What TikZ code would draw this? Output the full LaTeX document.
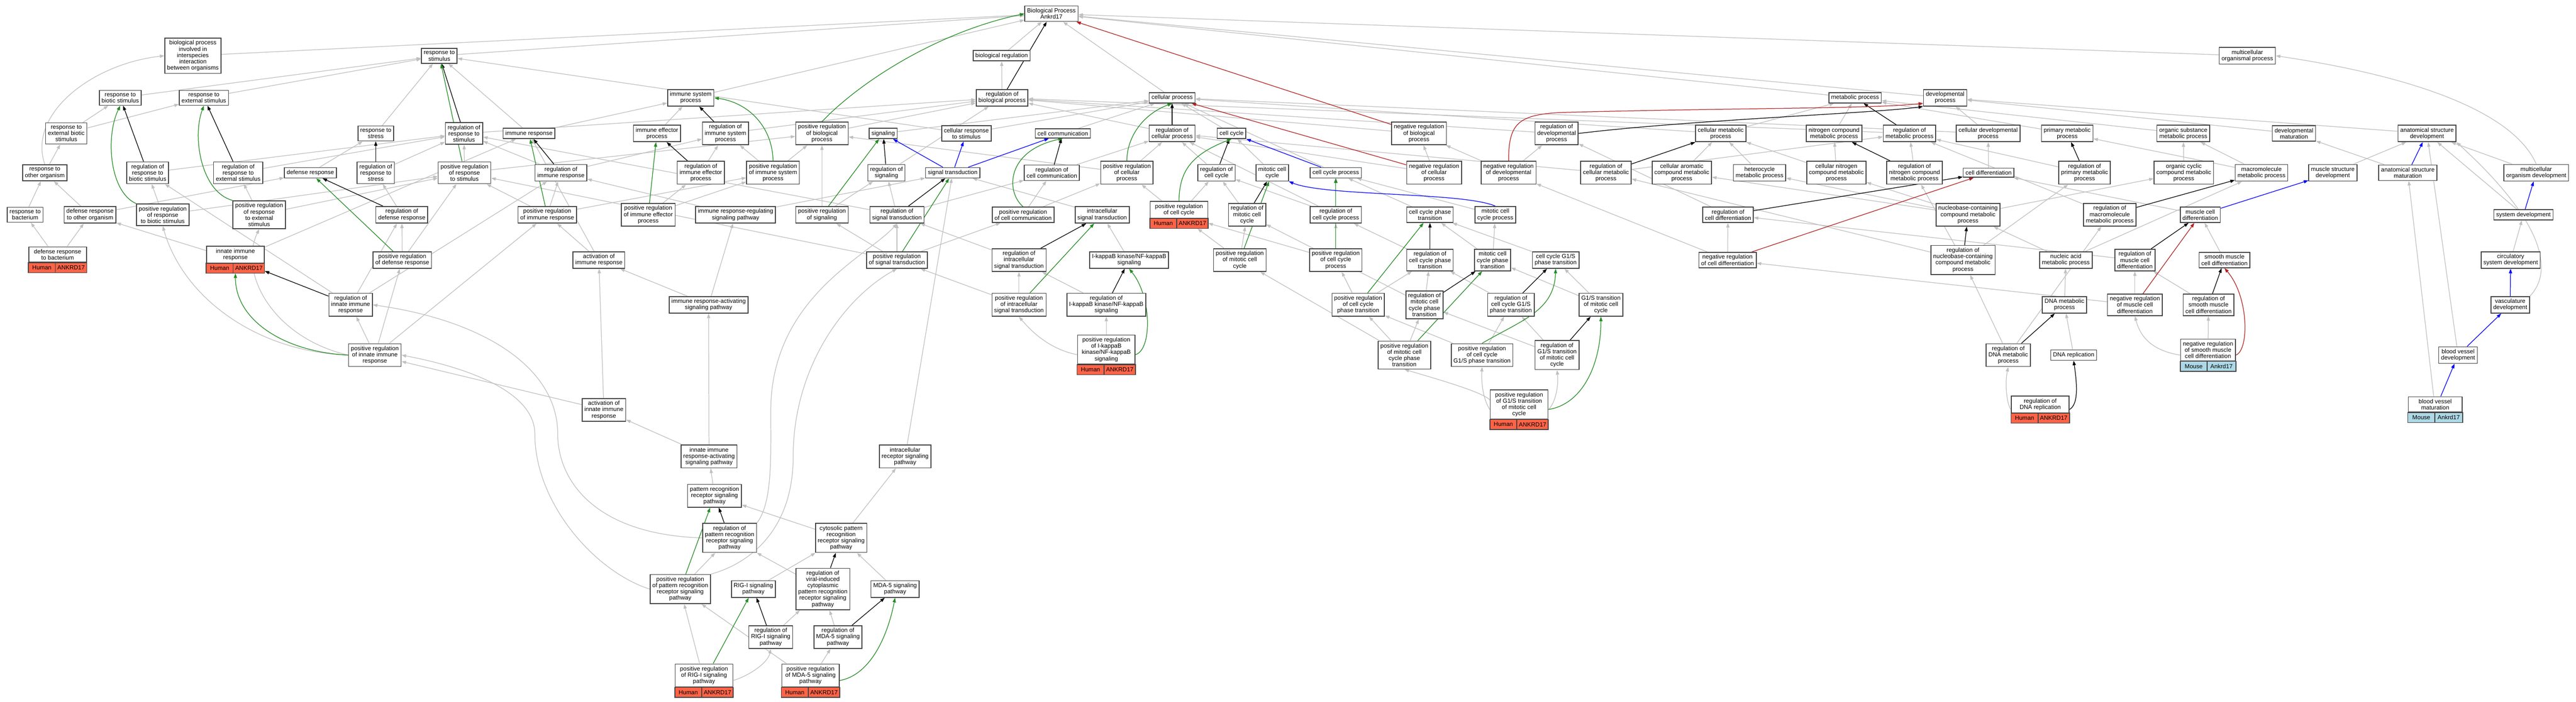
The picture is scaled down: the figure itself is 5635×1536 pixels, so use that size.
\documentclass[tikz,border=0pt]{standalone}
\usepackage{fontspec}
\setmainfont{Liberation Sans}
\usetikzlibrary{arrows.meta,backgrounds,fit,calc}
\definecolor{edgegray}{RGB}{192,192,192}
\definecolor{posgreen}{RGB}{34,139,34}
\definecolor{negred}{RGB}{178,34,34}
\definecolor{humanred}{RGB}{255,99,71}
\definecolor{mouseblue}{RGB}{173,216,230}
\definecolor{boxline}{RGB}{68,68,68}
\newcommand{\gvfont}{\fontsize{13}{13.7}\selectfont}
\newcommand{\genenode}[7]{%
  \node[term, minimum width=#7] (#1-l) at #2 {#3};
  \coordinate (#1-b) at ([yshift=-22pt]#1-l.south east);
  \coordinate (#1-m) at ([xshift=59pt]#1-l.south west);
  \draw[cellline, fill=#6] (#1-l.south west) rectangle (#1-b);
  \draw[cellline] (#1-m) -- (#1-m |- #1-b);
  \node[font=\gvfont, inner sep=0pt] at ($(#1-l.south west)!0.5!(#1-m |- #1-b)$) {#4};
  \node[font=\gvfont, inner sep=0pt] at ($(#1-m)!0.5!(#1-b)$) {#5};
  \node[fit=(#1-l)(#1-b), inner sep=0pt] (#1) {};}
\newcommand{\humannode}[3]{\genenode{#1}{#2}{#3}{Human}{ANKRD17}{humanred}{126pt}}
\newcommand{\mousenode}[3]{\genenode{#1}{#2}{#3}{Mouse}{Ankrd17}{mouseblue}{118pt}}

\begin{document}
\begin{tikzpicture}[x=1pt, y=-1pt,
  term/.style={draw=boxline, line width=1.8pt, fill=white, align=center, font=\gvfont, inner xsep=5pt, inner ysep=5.2pt},
  cellline/.style={draw=boxline, line width=1.8pt},
  isa/.style={draw=edgegray, line width=1.4pt, -{Triangle[length=10pt, width=7pt]}},
  regl/.style={draw=black, line width=1.4pt, -{Triangle[length=10pt, width=7pt]}},
  posreg/.style={draw=posgreen, line width=1.4pt, -{Triangle[length=10pt, width=7pt]}},
  negreg/.style={draw=negred, line width=1.4pt, -{Triangle[length=10pt, width=7pt]}},
  partof/.style={draw=blue, line width=1.4pt, -{Triangle[length=10pt, width=7pt]}}]
\useasboundingbox (0,0) rectangle (5635,1536);

\node[term] (root) at (2300,30) {Biological Process\\Ankrd17};
\node[term] (bpinter) at (422,122) {biological process\\involved in\\interspecies\\interaction\\between organisms};
\node[term] (respstim) at (961,122) {response to\\stimulus};
\node[term] (bioreg) at (2191,122) {biological regulation};
\node[term] (multiorg) at (4916,122) {multicellular\\organismal process};

\node[term] (respbiotic) at (263,214) {response to\\biotic stimulus};
\node[term] (respext) at (446,214) {response to\\external stimulus};
\node[term] (immsys) at (1511,214) {immune system\\process};
\node[term] (regbio) at (2192,214) {regulation of\\biological process};
\node[term] (cellproc) at (2564,214) {cellular process};
\node[term] (metproc) at (4058,214) {metabolic process};
\node[term] (devproc) at (4255,214) {developmental\\process};

\node[term] (respextbiotic) at (145,292) {response to\\external biotic\\stimulus};
\node[term] (respstress) at (822,292) {response to\\stress};
\node[term] (regrespstim) at (1015,292) {regulation of\\response to\\stimulus};
\node[term] (immresp) at (1157,292) {immune response};
\node[term] (immeff) at (1437,292) {immune effector\\process};
\node[term] (regimmsys) at (1587,292) {regulation of\\immune system\\process};
\node[term] (posregbio) at (1798,292) {positive regulation\\of biological\\process};
\node[term] (signaling) at (1932,292) {signaling};
\node[term] (cellrespstim) at (2114,292) {cellular response\\to stimulus};
\node[term] (cellcomm) at (2325,292) {cell communication};
\node[term] (regcellproc) at (2564,292) {regulation of\\cellular process};
\node[term] (cellcycle) at (2694,292) {cell cycle};
\node[term] (negregbio) at (3104,292) {negative regulation\\of biological\\process};
\node[term] (regdev) at (3405,292) {regulation of\\developmental\\process};
\node[term] (cellmet) at (3764,292) {cellular metabolic\\process};
\node[term] (nitromet) at (4012,292) {nitrogen compound\\metabolic process};
\node[term] (regmet) at (4177,292) {regulation of\\metabolic process};
\node[term] (celldev) at (4349,292) {cellular developmental\\process};
\node[term] (primmet) at (4522,292) {primary metabolic\\process};
\node[term] (orgsub) at (4776,292) {organic substance\\metabolic process};
\node[term] (devmat) at (5018,292) {developmental\\maturation};
\node[term] (anatdev) at (5309,292) {anatomical structure\\development};

\node[term] (resporg) at (98,378) {response to\\other organism};
\node[term] (regrespbiotic) at (323,378) {regulation of\\response to\\biotic stimulus};
\node[term] (regrespext) at (521,378) {regulation of\\response to\\external stimulus};
\node[term] (defresp) at (679,378) {defense response};
\node[term] (regrespstress) at (822,378) {regulation of\\response to\\stress};
\node[term] (posregrespstim) at (1016,378) {positive regulation\\of response\\to stimulus};
\node[term] (regimmresp) at (1227,378) {regulation of\\immune response};
\node[term] (regimmeff) at (1533,378) {regulation of\\immune effector\\process};
\node[term] (posregimmsys) at (1691,378) {positive regulation\\of immune system\\process};
\node[term] (regsignaling) at (1939,378) {regulation of\\signaling};
\node[term] (sigtrans) at (2084,378) {signal transduction};
\node[term] (regcellcomm) at (2301,378) {regulation of\\cell communication};
\node[term] (posregcellproc) at (2465,378) {positive regulation\\of cellular\\process};
\node[term] (regcellcycle) at (2661,378) {regulation of\\cell cycle};
\node[term] (mitcc) at (2783,378) {mitotic cell\\cycle};
\node[term] (ccproc) at (2922,378) {cell cycle process};
\node[term] (negregcell) at (3137,378) {negative regulation\\of cellular\\process};
\node[term] (negregdev) at (3300,378) {negative regulation\\of developmental\\process};
\node[term] (regcellmet) at (3513,378) {regulation of\\cellular metabolic\\process};
\node[term] (cellarom) at (3679,378) {cellular aromatic\\compound metabolic\\process};
\node[term] (hetero) at (3849,378) {heterocycle\\metabolic process};
\node[term] (cellnitro) at (4017,378) {cellular nitrogen\\compound metabolic\\process};
\node[term] (regnitro) at (4188,378) {regulation of\\nitrogen compound\\metabolic process};
\node[term] (celldiff) at (4350,378) {cell differentiation};
\node[term] (regprim) at (4560,378) {regulation of\\primary metabolic\\process};
\node[term] (orgcyc) at (4777,378) {organic cyclic\\compound metabolic\\process};
\node[term] (macromet) at (4947,378) {macromolecule\\metabolic process};
\node[term] (muscstruct) at (5103,378) {muscle structure\\development};
\node[term] (anatmat) at (5267,378) {anatomical structure\\maturation};
\node[term] (multidev) at (5548,378) {multicellular\\organism development};

\node[term] (respbact) at (55,470) {response to\\bacterium};
\node[term] (defrespother) at (197,470) {defense response\\to other organism};
\node[term] (posregrespbiotic) at (356,470) {positive regulation\\of response\\to biotic stimulus};
\node[term] (posregrespext) at (567,470) {positive regulation\\of response\\to external\\stimulus};
\node[term] (regdefresp) at (879,470) {regulation of\\defense response};
\node[term] (posregimmresp) at (1197,470) {positive regulation\\of immune response};
\node[term] (posregimmeff) at (1418,470) {positive regulation\\of immune effector\\process};
\node[term] (immrespreg) at (1609,470) {immune response-regulating\\signaling pathway};
\node[term] (posregsig) at (1798,470) {positive regulation\\of signaling};
\node[term] (regsigtrans) at (1962,470) {regulation of\\signal transduction};
\node[term] (posregcellcomm) at (2238,470) {positive regulation\\of cell communication};
\node[term] (intrasig) at (2411,470) {intracellular\\signal transduction};
\humannode{posregcc}{(2579,459)}{positive regulation\\of cell cycle}
\node[term] (regmitcc) at (2728,470) {regulation of\\mitotic cell\\cycle};
\node[term] (regccproc) at (2922,470) {regulation of\\cell cycle process};
\node[term] (ccphase) at (3128,470) {cell cycle phase\\transition};
\node[term] (mitccproc) at (3271,470) {mitotic cell\\cycle process};
\node[term] (regcelldiff) at (3780,470) {regulation of\\cell differentiation};
\node[term] (nucleo) at (4305,470) {nucleobase-containing\\compound metabolic\\process};
\node[term] (regmacro) at (4615,470) {regulation of\\macromolecule\\metabolic process};
\node[term] (musccelldiff) at (4813,470) {muscle cell\\differentiation};
\node[term] (sysdev) at (5520,470) {system development};

\humannode{defrespbact}{(126,557)}{defense response\\to bacterium}
\humannode{innate}{(515,557)}{innate immune\\response}
\node[term] (posregdef) at (880,569) {positive regulation\\of defense response};
\node[term] (actimm) at (1310,569) {activation of\\immune response};
\node[term] (posregsigtrans) at (1962,569) {positive regulation\\of signal transduction};
\node[term] (regintra) at (2229,569) {regulation of\\intracellular\\signal transduction};
\node[term] (ikb) at (2470,569) {I-kappaB kinase/NF-kappaB\\signaling};
\node[term] (posregmitcc) at (2712,569) {positive regulation\\of mitotic cell\\cycle};
\node[term] (posregccproc) at (2922,569) {positive regulation\\of cell cycle\\process};
\node[term] (regccphase) at (3128,569) {regulation of\\cell cycle phase\\transition};
\node[term] (mitccphase) at (3265,569) {mitotic cell\\cycle phase\\transition};
\node[term] (ccg1s) at (3403,569) {cell cycle G1/S\\phase transition};
\node[term] (negregcelldiff) at (3779,569) {negative regulation\\of cell differentiation};
\node[term] (regnucleo) at (4294,569) {regulation of\\nucleobase-containing\\compound metabolic\\process};
\node[term] (nucacid) at (4519,569) {nucleic acid\\metabolic process};
\node[term] (regmuscdiff) at (4670,569) {regulation of\\muscle cell\\differentiation};
\node[term] (smooth) at (4866,569) {smooth muscle\\cell differentiation};
\node[term] (circ) at (5492,569) {circulatory\\system development};

\node[term] (reginnate) at (767,667) {regulation of\\innate immune\\response};
\node[term] (immrespact) at (1550,667) {immune response-activating\\signaling pathway};
\node[term] (posregintra) at (2229,667) {positive regulation\\of intracellular\\signal transduction};
\node[term] (regikb) at (2420,667) {regulation of\\I-kappaB kinase/NF-kappaB\\signaling};
\node[term] (posregccphase) at (2971,667) {positive regulation\\of cell cycle\\phase transition};
\node[term] (regmitccphase) at (3116,667) {regulation of\\mitotic cell\\cycle phase\\transition};
\node[term] (regccg1s) at (3305,667) {regulation of\\cell cycle G1/S\\phase transition};
\node[term] (g1smit) at (3502,667) {G1/S transition\\of mitotic cell\\cycle};
\node[term] (dnamet) at (4516,667) {DNA metabolic\\process};
\node[term] (negregmusc) at (4670,667) {negative regulation\\of muscle cell\\differentiation};
\node[term] (regsmooth) at (4831,667) {regulation of\\smooth muscle\\cell differentiation};
\node[term] (vasc) at (5491,667) {vasculature\\development};

\node[term] (posreginnate) at (820,777) {positive regulation\\of innate immune\\response};
\humannode{posregikb}{(2420,765)}{positive regulation\\of I-kappaB\\kinase/NF-kappaB\\signaling}
\node[term] (posregmitccphase) at (3072,777) {positive regulation\\of mitotic cell\\cycle phase\\transition};
\node[term] (posregccg1s) at (3242,777) {positive regulation\\of cell cycle\\G1/S phase transition};
\node[term] (regg1smit) at (3406,777) {regulation of\\G1/S transition\\of mitotic cell\\cycle};
\node[term] (regdnamet) at (4393,777) {regulation of\\DNA metabolic\\process};
\node[term] (dnarep) at (4536,777) {DNA replication};
\mousenode{negregsmooth}{(4830,766)}{negative regulation\\of smooth muscle\\cell differentiation}
\node[term] (bloodvessel) at (5377,777) {blood vessel\\development};

\node[term] (actinnate) at (1321,897) {activation of\\innate immune\\response};
\humannode{posregg1smit}{(3323,885)}{positive regulation\\of G1/S transition\\of mitotic cell\\cycle}
\humannode{regdnarep}{(4463,885)}{regulation of\\DNA replication}
\mousenode{bvmat}{(5327,885)}{blood vessel\\maturation}

\node[term] (innateact) at (1551,999) {innate immune\\response-activating\\signaling pathway};
\node[term] (intrarec) at (1980,999) {intracellular\\receptor signaling\\pathway};
\node[term] (prr) at (1563,1085) {pattern recognition\\receptor signaling\\pathway};
\node[term] (regprr) at (1596,1177) {regulation of\\pattern recognition\\receptor signaling\\pathway};
\node[term] (cytoprr) at (1840,1177) {cytosolic pattern\\recognition\\receptor signaling\\pathway};
\node[term] (posregprr) at (1488,1289) {positive regulation\\of pattern recognition\\receptor signaling\\pathway};
\node[term] (rigi) at (1648,1289) {RIG-I signaling\\pathway};
\node[term] (regviral) at (1800,1289) {regulation of\\viral-induced\\cytoplasmic\\pattern recognition\\receptor signaling\\pathway};
\node[term] (mda5) at (1958,1289) {MDA-5 signaling\\pathway};
\node[term] (regrigi) at (1686,1394) {regulation of\\RIG-I signaling\\pathway};
\node[term] (regmda5) at (1833,1394) {regulation of\\MDA-5 signaling\\pathway};
\humannode{posregrigi}{(1540,1478)}{positive regulation\\of RIG-I signaling\\pathway}
\humannode{posregmda5}{(1773,1478)}{positive regulation\\of MDA-5 signaling\\pathway}

\begin{pgfonlayer}{background}
\fill[white] (0,0) rectangle (5635,1536);
\draw[isa] (bpinter) -- (root);
\draw[isa] (respstim) -- (root);
\draw[isa] (immsys) -- (root);
\draw[isa] (bioreg) -- (root);
\draw[isa] (cellproc) -- (root);
\draw[isa] (metproc) -- (root);
\draw[isa] (devproc) -- (root);
\draw[isa] (multiorg) -- (root);
\draw[isa] (signaling) -- (cellproc);
\draw[isa] (regbio) -- (bioreg);
\draw[isa] (respbiotic) -- (respstim);
\draw[isa] (respext) -- (respstim);
\draw[isa] (respstress) -- (respstim);
\draw[isa] (immresp) -- (respstim);
\draw[isa] (cellrespstim) -- (respstim);
\draw[isa] (respextbiotic) -- (respbiotic);
\draw[isa] (respextbiotic) -- (respext);
\draw[isa] (resporg) -- (respextbiotic);
\draw[isa] (resporg.north) .. controls (60,250) and (200,140) .. (bpinter.west);
\draw[isa] (regrespbiotic) -- (regrespstim);
\draw[isa] (regrespext) -- (regrespstim);
\draw[isa] (regrespstress) -- (regrespstim);
\draw[isa] (regrespstim) -- (regbio);
\draw[isa] (defresp) -- (respstress);
\draw[isa] (posregrespstim) -- (regrespstim);
\draw[isa] (posregrespstim) -- (posregbio);
\draw[isa] (respbact) -- (resporg);
\draw[isa] (defrespother) -- (resporg);
\draw[isa] (defrespother) -- (defresp);
\draw[isa] (posregrespbiotic) -- (regrespbiotic);
\draw[isa] (posregrespbiotic) -- (posregrespstim);
\draw[isa] (posregrespext) -- (regrespext);
\draw[isa] (posregrespext) -- (posregrespstim);
\draw[isa] (regdefresp) -- (regrespstress);
\draw[isa] (posregdef) -- (regdefresp);
\draw[isa] (posregdef) -- (posregrespstim);
\draw[isa] (defrespbact) -- (respbact);
\draw[isa] (defrespbact) -- (defrespother);
\draw[isa] (innate) -- (defrespother);
\draw[isa] (innate) -- (immresp);
\draw[isa] (reginnate) -- (regrespbiotic);
\draw[isa] (reginnate) -- (regdefresp);
\draw[isa] (reginnate) -- (regimmresp);
\draw[isa] (posreginnate) -- (reginnate);
\draw[isa] (posreginnate) -- (posregdef);
\draw[isa] (posreginnate) -- (posregimmresp);
\draw[isa] (posreginnate.west) .. controls (560,770) and (400,650) .. (posregrespbiotic.south);
\draw[isa] (posreginnate.west) .. controls (600,740) and (520,600) .. (posregrespext.south);
\draw[isa] (immresp) -- (immsys);
\draw[isa] (immeff) -- (immsys);
\draw[isa] (regimmsys) -- (regbio);
\draw[isa] (posregimmsys) -- (regimmsys);
\draw[isa] (posregimmsys) -- (posregbio);
\draw[isa] (regimmresp) -- (regimmsys);
\draw[isa] (regimmresp) -- (regrespstim);
\draw[isa] (posregimmresp) -- (regimmresp);
\draw[isa] (posregimmresp) -- (posregimmsys);
\draw[isa] (posregimmresp) -- (posregrespstim);
\draw[isa] (regimmeff) -- (regimmsys);
\draw[isa] (posregimmeff) -- (regimmeff);
\draw[isa] (posregimmeff) -- (posregimmsys);
\draw[isa] (immrespreg) -- (regimmresp);
\draw[isa] (immrespreg) -- (sigtrans);
\draw[isa] (immrespact) -- (immrespreg);
\draw[isa] (immrespact) -- (actimm);
\draw[isa] (actimm) -- (posregimmresp);
\draw[isa] (actimm) -- (immresp);
\draw[isa] (actinnate) -- (actimm);
\draw[isa] (actinnate) -- (posreginnate);
\draw[isa] (innateact) -- (actinnate);
\draw[isa] (innateact) -- (immrespact);
\draw[isa] (posregbio) -- (regbio);
\draw[isa] (regsignaling) -- (regbio);
\draw[isa] (posregsig) -- (regsignaling);
\draw[isa] (posregsig) -- (posregbio);
\draw[isa] (regsigtrans) -- (regsignaling);
\draw[isa] (regsigtrans) -- (regcellcomm);
\draw[isa] (regsigtrans) -- (regrespstim);
\draw[isa] (posregsigtrans) -- (regsigtrans);
\draw[isa] (posregsigtrans) -- (posregsig);
\draw[isa] (posregsigtrans) -- (posregcellcomm);
\draw[isa] (posregsigtrans) -- (posregrespstim);
\draw[isa] (intrasig) -- (sigtrans);
\draw[isa] (intrarec) -- (sigtrans);
\draw[isa] (posregcellcomm) -- (regcellcomm);
\draw[isa] (posregcellcomm) -- (posregcellproc);
\draw[isa] (regcellcomm) -- (regcellproc);
\draw[isa] (cellcomm) -- (cellproc);
\draw[isa] (cellrespstim) -- (cellproc);
\draw[isa] (posregcellproc) -- (regcellproc);
\draw[isa] (regcellproc) -- (regbio);
\draw[isa] (posregcellproc) -- (posregbio);
\draw[isa] (cellcycle) -- (cellproc);
\draw[isa] (mitcc) -- (cellcycle);
\draw[isa] (regcellcycle) -- (regcellproc);
\draw[isa] (posregcc) -- (regcellcycle);
\draw[isa] (posregcc) -- (posregcellproc);
\draw[isa] (ccproc) -- (cellproc);
\draw[isa] (regmitcc) -- (regcellcycle);
\draw[isa] (regccproc) -- (regcellcycle);
\draw[isa] (regccproc) -- (regcellproc);
\draw[isa] (posregmitcc) -- (regmitcc);
\draw[isa] (posregmitcc) -- (posregcc);
\draw[isa] (posregccproc) -- (regccproc);
\draw[isa] (posregccproc) -- (posregcc);
\draw[isa] (ccphase) -- (ccproc);
\draw[isa] (mitccproc) -- (ccproc);
\draw[isa] (regccphase) -- (regccproc);
\draw[isa] (posregccphase) -- (regccphase);
\draw[isa] (posregccphase) -- (posregccproc);
\draw[isa] (mitccphase) -- (ccphase);
\draw[isa] (mitccphase) -- (mitccproc);
\draw[isa] (ccg1s) -- (ccphase);
\draw[isa] (regmitccphase) -- (regccphase);
\draw[isa] (regmitccphase) -- (regmitcc);
\draw[isa] (regccg1s) -- (regccphase);
\draw[isa] (g1smit) -- (mitccphase);
\draw[isa] (g1smit) -- (ccg1s);
\draw[isa] (posregmitccphase) -- (regmitccphase);
\draw[isa] (posregmitccphase) -- (posregccphase);
\draw[isa] (posregmitccphase) -- (posregmitcc);
\draw[isa] (posregccg1s) -- (regccg1s);
\draw[isa] (posregccg1s) -- (posregccphase);
\draw[isa] (regg1smit) -- (regccg1s);
\draw[isa] (regg1smit) -- (regmitccphase);
\draw[isa] (posregg1smit.west) .. controls (3280,875) and (3250,860) .. (posregmitccphase.south);
\draw[isa] (posregg1smit.west) .. controls (3245,875) and (3240,840) .. (posregccg1s.south);
\draw[isa] (posregg1smit.east) .. controls (3400,885) and (3410,850) .. (regg1smit.south);
\draw[isa] (ikb) -- (intrasig);
\draw[isa] (regintra) -- (regsigtrans);
\draw[isa] (posregintra) -- (regintra);
\draw[isa] (posregintra) -- (posregsigtrans);
\draw[isa] (regikb) -- (regintra);
\draw[isa] (posregikb) -- (regikb);
\draw[isa] (posregikb.west) .. controls (2300,765) and (2260,730) .. (posregintra.south);
\draw[isa] (prr) -- (innateact);
\draw[isa] (posregprr) -- (regprr);
\draw[isa] (cytoprr) -- (prr);
\draw[isa] (cytoprr) -- (intrarec);
\draw[isa] (regprr.west) .. controls (1300,1170) and (1220,1050) .. (1220,950) .. controls (1220,800) and (1050,700) .. (reginnate.east);
\draw[isa] (regprr.north east) .. controls (1690,1100) and (1686,1000) .. (1686,900) .. controls (1686,650) and (1900,560) .. (regsigtrans.south);
\draw[isa] (posregprr.west) .. controls (1300,1250) and (1170,1100) .. (1170,950) .. controls (1170,850) and (1000,800) .. (posreginnate.east);
\draw[isa] (posregprr.north east) .. controls (1650,1230) and (1735,1150) .. (1735,1000) .. controls (1735,800) and (1850,650) .. (posregsigtrans.south);
\draw[isa] (rigi) -- (cytoprr);
\draw[isa] (mda5) -- (cytoprr);
\draw[isa] (regviral) -- (regprr);
\draw[isa] (regrigi) -- (regviral);
\draw[isa] (regmda5) -- (regviral);
\draw[isa] (posregrigi.east) .. controls (1640,1478) and (1680,1450) .. (regrigi.south);
\draw[isa] (posregrigi) -- (posregprr);
\draw[isa] (posregmda5) -- (regmda5);
\draw[isa] (posregmda5) -- (posregprr);
\draw[isa] (cellmet) -- (metproc);
\draw[isa] (cellmet) -- (cellproc);
\draw[isa] (nitromet) -- (metproc);
\draw[isa] (regmet) -- (regbio);
\draw[isa] (primmet) -- (metproc);
\draw[isa] (orgsub) -- (metproc);
\draw[isa] (macromet) -- (orgsub);
\draw[isa] (macromet) -- (primmet);
\draw[isa] (regdev) -- (regbio);
\draw[isa] (negregbio) -- (regbio);
\draw[isa] (celldev) -- (devproc);
\draw[isa] (celldev) -- (cellproc);
\draw[isa] (devmat) -- (devproc);
\draw[isa] (anatdev) -- (devproc);
\draw[isa] (multidev.north) .. controls (5500,250) and (5300,170) .. (multiorg.east);
\draw[isa] (multidev) -- (anatdev);
\draw[isa] (sysdev) -- (anatdev);
\draw[isa] (circ) -- (sysdev);
\draw[isa] (vasc.north east) .. controls (5580,600) and (5580,500) .. (anatdev.south east);
\draw[isa] (bloodvessel) -- (anatdev);
\draw[isa] (bvmat) -- (anatmat);
\draw[isa] (anatmat) -- (devmat);
\draw[isa] (muscstruct) -- (anatdev);
\draw[isa] (musccelldiff) -- (celldiff);
\draw[isa] (smooth) -- (musccelldiff);
\draw[isa] (regmuscdiff) -- (regcelldiff);
\draw[isa] (negregmusc) -- (regmuscdiff);
\draw[isa] (negregmusc) -- (negregcelldiff);
\draw[isa] (regsmooth) -- (regmuscdiff);
\draw[isa] (negregsmooth) -- (regsmooth);
\draw[isa] (negregsmooth.west) .. controls (4700,766) and (4680,730) .. (negregmusc.south);
\draw[isa] (celldiff) -- (celldev);
\draw[isa] (negregcelldiff) -- (regcelldiff);
\draw[isa] (regcelldiff) -- (regdev);
\draw[isa] (negregcelldiff) -- (negregdev);
\draw[isa] (negregdev) -- (regdev);
\draw[isa] (negregdev) -- (negregbio);
\draw[isa] (negregcell) -- (negregbio);
\draw[isa] (negregcell) -- (regcellproc);
\draw[isa] (regcellmet) -- (regmet);
\draw[isa] (regcellmet) -- (regcellproc);
\draw[isa] (cellarom) -- (cellmet);
\draw[isa] (hetero) -- (cellmet);
\draw[isa] (cellnitro) -- (cellmet);
\draw[isa] (cellnitro) -- (nitromet);
\draw[isa] (regnitro) -- (regmet);
\draw[isa] (regprim) -- (regmet);
\draw[isa] (orgcyc) -- (orgsub);
\draw[isa] (nucleo) -- (cellarom);
\draw[isa] (nucleo) -- (hetero);
\draw[isa] (nucleo) -- (cellnitro);
\draw[isa] (nucleo) -- (orgcyc);
\draw[isa] (regnucleo) -- (regnitro);
\draw[isa] (regnucleo) -- (regcellmet);
\draw[isa] (regnucleo) -- (regprim);
\draw[isa] (regmacro) -- (regmet);
\draw[isa] (nucacid) -- (nucleo);
\draw[isa] (nucacid) -- (macromet);
\draw[isa] (dnamet) -- (nucacid);
\draw[isa] (regdnamet) -- (regnucleo);
\draw[isa] (regdnamet) -- (regmacro);
\draw[isa] (dnarep) -- (dnamet);
\draw[isa] (regdnarep.west) .. controls (4390,885) and (4385,840) .. (regdnamet.south);

\draw[regl] (regbio) -- (root);
\draw[regl] (regrespstim) -- (respstim);
\draw[regl] (regrespbiotic) -- (respbiotic);
\draw[regl] (regrespext) -- (respext);
\draw[regl] (regrespstress) -- (respstress);
\draw[regl] (regdefresp) -- (defresp);
\draw[regl] (reginnate) -- (innate);
\draw[regl] (regimmsys) -- (immsys);
\draw[regl] (regimmresp) -- (immresp);
\draw[regl] (regimmeff) -- (immeff);
\draw[regl] (regsignaling) -- (signaling);
\draw[regl] (regsigtrans) -- (sigtrans);
\draw[regl] (regcellcomm) -- (cellcomm);
\draw[regl] (regcellproc) -- (cellproc);
\draw[regl] (regcellcycle) -- (cellcycle);
\draw[regl] (regmitcc) -- (mitcc);
\draw[regl] (regccproc) -- (ccproc);
\draw[regl] (regccphase) -- (ccphase);
\draw[regl] (regmitccphase) -- (mitccphase);
\draw[regl] (regccg1s) -- (ccg1s);
\draw[regl] (regg1smit) -- (g1smit);
\draw[regl] (regintra) -- (intrasig);
\draw[regl] (regikb) -- (ikb);
\draw[regl] (regprr) -- (prr);
\draw[regl] (regviral) -- (cytoprr);
\draw[regl] (regrigi) -- (rigi);
\draw[regl] (regmda5) -- (mda5);
\draw[regl] (regdev.east) .. controls (3700,262) and (4100,248) .. (devproc.south west);
\draw[regl] (regmet) -- (metproc);
\draw[regl] (regcellmet) -- (cellmet);
\draw[regl] (regnitro) -- (nitromet);
\draw[regl] (regprim) -- (primmet);
\draw[regl] (regcelldiff) -- (celldiff);
\draw[regl] (regnucleo) -- (nucleo);
\draw[regl] (regmacro) -- (macromet);
\draw[regl] (regmuscdiff) -- (musccelldiff);
\draw[regl] (regsmooth) -- (smooth);
\draw[regl] (regdnamet) -- (dnamet);
\draw[regl] (regdnarep.east) .. controls (4545,885) and (4545,850) .. (dnarep.south);

\draw[posreg] (posregbio.north) .. controls (1880,180) and (2050,70) .. (root.west);
\draw[posreg] (posregrespstim) -- (respstim);
\draw[posreg] (posregrespbiotic.north west) .. controls (240,420) and (230,300) .. (respbiotic.south);
\draw[posreg] (posregrespext.north west) .. controls (440,420) and (420,300) .. (respext.south);
\draw[posreg] (posregdef) -- (defresp);
\draw[posreg] (posreginnate.west) .. controls (620,770) and (515,700) .. (innate.south);
\draw[posreg] (posregimmsys.north) .. controls (1690,280) and (1640,225) .. (immsys.east);
\draw[posreg] (posregimmresp) -- (immresp);
\draw[posreg] (posregimmeff) -- (immeff);
\draw[posreg] (posregsig) -- (signaling);
\draw[posreg] (posregsigtrans) -- (sigtrans);
\draw[posreg] (posregcellcomm.north) .. controls (2200,420) and (2200,330) .. (cellcomm.south);
\draw[posreg] (posregcellproc.north) .. controls (2465,300) and (2500,250) .. (cellproc.south);
\draw[posreg] (posregcc.north) .. controls (2580,380) and (2600,340) .. (cellcycle.south);
\draw[posreg] (posregmitcc) -- (mitcc);
\draw[posreg] (posregccproc) -- (ccproc);
\draw[posreg] (posregccphase) -- (ccphase);
\draw[posreg] (posregmitccphase) -- (mitccphase);
\draw[posreg] (posregccg1s.north) .. controls (3330,700) and (3400,680) .. (ccg1s.south);
\draw[posreg] (posregg1smit.east) .. controls (3460,885) and (3502,800) .. (g1smit.south);
\draw[posreg] (posregintra) -- (intrasig);
\draw[posreg] (posregikb.east) .. controls (2520,765) and (2520,650) .. (ikb.south);
\draw[posreg] (posregprr) -- (prr);
\draw[posreg] (posregrigi) -- (rigi);
\draw[posreg] (posregmda5.east) .. controls (1900,1478) and (1940,1400) .. (mda5.south);

\draw[negreg] (negregbio) -- (root);
\draw[negreg] (negregcell) -- (cellproc);
\draw[negreg] (negregdev.north) .. controls (3300,270) and (3320,250) .. (3420,246) .. controls (3800,236) and (4100,238) .. ([yshift=-12pt]devproc.west);
\draw[negreg] (negregcelldiff) -- (celldiff);
\draw[negreg] (negregmusc) -- (musccelldiff);
\draw[negreg] (negregsmooth.east) .. controls (4920,766) and (4920,650) .. (smooth.south);

\draw[partof] (sigtrans) -- (signaling);
\draw[partof] (sigtrans) -- (cellcomm);
\draw[partof] (sigtrans) -- (cellrespstim);
\draw[partof] (ccproc) -- (cellcycle);
\draw[partof] (mitccproc.north) .. controls (3200,420) and (2900,430) .. (mitcc.south east);
\draw[partof] (musccelldiff) -- (muscstruct);
\draw[partof] (anatmat) -- (anatdev);
\draw[partof] (sysdev) -- (multidev);
\draw[partof] (vasc) -- (circ);
\draw[partof] (bloodvessel) -- (vasc);
\draw[partof] (bvmat) -- (bloodvessel);
\end{pgfonlayer}
\end{tikzpicture}
\end{document}
